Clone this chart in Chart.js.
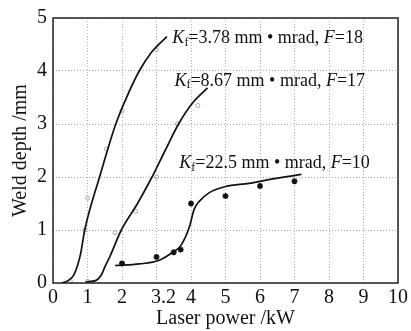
<!DOCTYPE html>
<html>
<head>
<meta charset="utf-8">
<script src="https://cdn.jsdelivr.net/npm/chart.js@4"></script>
<style>
  html, body { margin: 0; padding: 0; background: #fff; }
  #wrap { width: 411px; height: 331px; }
</style>
</head>
<body>
<div id="wrap"><canvas id="weld_chart"></canvas></div>
<script>
// ! fitted curves
const fit_a_x = [0.25, 0.45, 0.6, 0.72, 0.8, 0.92, 1.35, 1.82, 2.2, 2.5, 2.85, 3.3];
const fit_a_y = [0, 0.05, 0.15, 0.35, 0.55, 1.0, 2.0, 3.0, 3.6, 4.0, 4.35, 4.65];
const fit_b_x = [0.95, 1.25, 1.4, 1.5, 1.65, 1.98, 2.45, 2.87, 3.25, 3.64, 4.05, 4.48];
const fit_b_y = [0.02, 0.05, 0.15, 0.3, 0.5, 1.0, 1.5, 2.0, 2.5, 3.0, 3.4, 3.68];
const fit_c_x = [1.8, 2.5, 3.08, 3.47, 3.71, 3.95, 4.09, 4.24, 4.52, 5.0, 5.68, 6.25, 7.2];
const fit_c_y = [0.33, 0.36, 0.43, 0.58, 0.71, 1.05, 1.39, 1.54, 1.7, 1.82, 1.88, 1.95, 2.05];

// ! measured points
const pts_a_x = [0.5, 0.92, 1.0, 1.55, 2.0, 3.0];
const pts_a_y = [0.03, 1.0, 1.6, 2.53, 3.25, 4.4];
const pts_b_x = [1.0, 1.8, 2.4, 3.0, 3.6, 4.2];
const pts_b_y = [0.03, 0.95, 1.35, 2.0, 3.0, 3.35];
const pts_c_x = [2, 3, 3.5, 3.7, 4, 5, 6, 7];
const pts_c_y = [0.37, 0.49, 0.58, 0.63, 1.5, 1.64, 1.83, 1.92];

// ! labels
const kf_values = ['3.78', '8.67', '22.5'];
const f_values = ['18', '17', '10'];
const x_tick_values = [0, 1, 2, 3, 3.2, 4, 5, 6, 7, 8, 9, 10];
const x_tick_labels = ['0', '1', '2', '', '3.2', '4', '5', '6', '7', '8', '9', '10'];
const y_tick_labels = ['0', '1', '2', '3', '4', '5'];

const toPoints = (xs, ys) => xs.map((x, i) => ({ x: x, y: ys[i] }));

const SERIF = '"Liberation Serif", "DejaVu Serif", serif';
const GRID = '#b0b0b0';

// where the curve labels sit (data coords)
const label_spots = [[3.46, 4.61], [3.52, 3.81], [3.66, 2.25]];

function drawKfLabel(ctx, x, y, kf, f) {
    const parts = [
        ['K', 'italic 18px ' + SERIF, 0],
        ['f', '12px ' + SERIF, 4],
        ['=' + kf + ' mm \u2022 mrad, ', '18px ' + SERIF, 0],
        ['F', 'italic 18px ' + SERIF, 0],
        ['=' + f, '18px ' + SERIF, 0],
    ];
    ctx.textBaseline = 'middle';
    ctx.textAlign = 'left';
    ctx.fillStyle = '#111';
    let cx = x;
    parts.forEach(p => {
        ctx.font = p[1];
        ctx.fillText(p[0], cx, y + p[2]);
        cx += ctx.measureText(p[0]).width;
    });
}

const frame_plugin = {
    id: 'frame_plugin',
    afterDatasetsDraw(chart) {
        const ctx = chart.ctx;
        const a = chart.chartArea;
        ctx.save();
        ctx.strokeStyle = '#222';
        ctx.lineWidth = 1.5;
        ctx.strokeRect(a.left, a.top, a.right - a.left, a.bottom - a.top);
        const xs = chart.scales.x, ys = chart.scales.y;
        label_spots.forEach((s, i) => {
            drawKfLabel(ctx, xs.getPixelForValue(s[0]), ys.getPixelForValue(s[1]), kf_values[i], f_values[i]);
        });
        ctx.restore();
    }
};

const curve = (xs, ys) => ({
    type: 'line',
    data: toPoints(xs, ys),
    borderColor: '#111',
    borderWidth: 1.7,
    pointRadius: 0,
    cubicInterpolationMode: 'monotone',
    fill: false,
});

const marks = (xs, ys, style, color, r, w) => ({
    type: 'scatter',
    data: toPoints(xs, ys),
    pointStyle: style,
    pointRadius: r,
    borderColor: color,
    backgroundColor: 'rgba(0,0,0,0)',
    borderWidth: w,
});

let weld_chart = new Chart(
    document.getElementById('weld_chart').getContext('2d'), {
    data: {
        datasets: [
            curve(fit_a_x, fit_a_y),
            curve(fit_b_x, fit_b_y),
            curve(fit_c_x, fit_c_y),
            marks(pts_a_x, pts_a_y, 'circle', '#aaa', 2, 1),
            marks(pts_b_x, pts_b_y, 'circle', '#aaa', 2, 1),
            marks(pts_c_x, pts_c_y, 'star', '#111', 3, 1.6),
        ],
    },
    options: {
        responsive: true,
        maintainAspectRatio: false,
        animation: false,
        layout: { padding: { top: 14, right: 11, left: 0, bottom: 0 } },
        plugins: { legend: { display: false }, tooltip: { enabled: false } },
        scales: {
            x: {
                type: 'linear',
                min: 0,
                max: 10,
                afterBuildTicks: (axis) => {
                    axis.ticks = x_tick_values.map(v => ({ value: v }));
                },
                afterFit: (axis) => { axis.height = 48; },
                border: { display: false, dash: [1, 2] },
                grid: {
                    color: (c) => (c.tick && c.tick.value === 3.2) ? 'rgba(0,0,0,0)' : GRID,
                    lineWidth: 1,
                    drawTicks: false,
                },
                ticks: {
                    autoSkip: false,
                    maxRotation: 0,
                    padding: 3,
                    color: '#111',
                    font: { family: SERIF, size: 20 },
                    callback: (v, i) => x_tick_labels[i],
                },
                title: {
                    display: true,
                    text: 'Laser power /kW',
                    color: '#111',
                    padding: { top: 0, bottom: 0 },
                    font: { family: SERIF, size: 20 },
                },
            },
            y: {
                type: 'linear',
                min: 0,
                max: 5,
                afterFit: (axis) => { axis.width = 53; },
                border: { display: false, dash: [1, 2] },
                grid: { color: GRID, lineWidth: 1, drawTicks: false },
                ticks: {
                    stepSize: 0.5,
                    padding: 6,
                    color: '#111',
                    font: { family: SERIF, size: 20 },
                    callback: (v) => Number.isInteger(v) ? y_tick_labels[v] : '',
                },
                title: {
                    display: true,
                    text: 'Weld depth /mm',
                    color: '#111',
                    padding: { top: 9, bottom: 0 },
                    font: { family: SERIF, size: 20 },
                },
            },
        },
    },
    plugins: [frame_plugin],
});
</script>
</body>
</html>
